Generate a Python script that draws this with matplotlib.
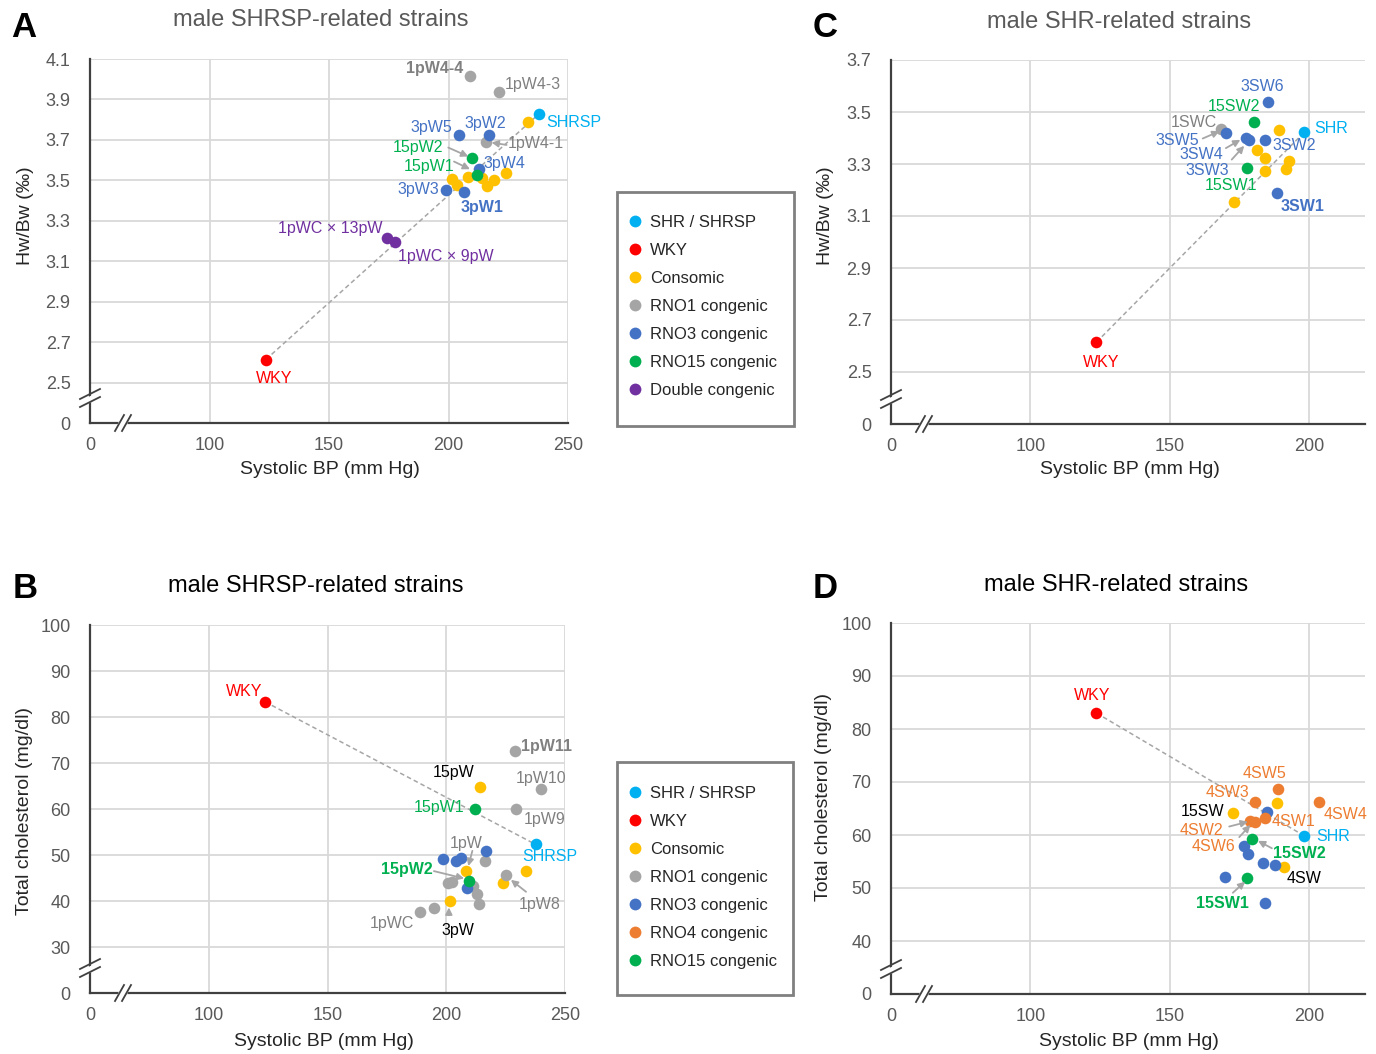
import numpy as np
import matplotlib.pyplot as plt
import matplotlib.transforms as mtransforms
from matplotlib.lines import Line2D
from matplotlib.patches import Rectangle, Polygon

plt.rcParams['font.family'] = ['Liberation Sans', 'DejaVu Sans']

# grupos de cepas
groups = ['SHR', 'WKY', 'Consomic', 'RNO1', 'RNO3', 'RNO4', 'RNO15', 'Double']
group_names = ['SHR / SHRSP', 'WKY', 'Consomic', 'RNO1 congenic', 'RNO3 congenic',
               'RNO4 congenic', 'RNO15 congenic', 'Double congenic']
group_colors = ['#00b0f0', '#ff0000', '#ffc000', '#a5a5a5', '#4472c4', '#ed7d31', '#00b050', '#7030a0']

# A - SHRSP, Hw/Bw
a_bp = [123.6, 237.7,
        233.4, 201.5, 203.6, 208.3, 214.1, 216.2, 218.9, 223.9,
        209.0, 221.0, 215.5,
        204.5, 216.8, 212.9, 199.0, 206.3,
        209.7, 212.0,
        174.4, 177.7]
a_hw = [2.614, 3.827,
        3.787, 3.506, 3.478, 3.516, 3.511, 3.474, 3.502, 3.534,
        4.016, 3.937, 3.692,
        3.726, 3.723, 3.555, 3.453, 3.442,
        3.608, 3.527,
        3.215, 3.193]
a_grp = ['WKY', 'SHR'] + ['Consomic'] * 8 + ['RNO1'] * 3 + ['RNO3'] * 5 + ['RNO15'] * 2 + ['Double'] * 2

# C - SHR, Hw/Bw
c_bp = [123.7, 198.3,
        189.0, 181.3, 184.1, 192.6, 191.5, 184.1, 172.9,
        168.3,
        185.1, 170.3, 177.2, 178.5, 184.1, 188.6,
        180.1, 177.7]
c_hw = [2.615, 3.423,
        3.432, 3.354, 3.322, 3.313, 3.282, 3.272, 3.153,
        3.435,
        3.539, 3.420, 3.401, 3.391, 3.392, 3.190,
        3.462, 3.285]
c_grp = ['WKY', 'SHR'] + ['Consomic'] * 7 + ['RNO1'] + ['RNO3'] * 6 + ['RNO15'] * 2

# B - SHRSP, colesterol
b_bp = [123.7, 237.6,
        214.0, 208.5, 233.5, 224.0, 201.7,
        229.1, 239.8, 229.4, 216.2, 225.1, 200.6, 202.5, 211.3, 213.1, 213.6, 195.0, 188.8,
        216.7, 198.7, 204.2, 206.4, 208.6,
        212.2, 209.7]
b_chol = [83.3, 52.3,
          64.8, 46.5, 46.5, 43.9, 40.0,
          72.7, 64.4, 60.0, 48.6, 45.6, 43.9, 44.2, 43.3, 41.5, 39.3, 38.5, 37.6,
          50.8, 49.2, 48.7, 49.4, 42.9,
          59.9, 44.4]
b_grp = ['WKY', 'SHR'] + ['Consomic'] * 5 + ['RNO1'] * 12 + ['RNO3'] * 5 + ['RNO15'] * 2

# D - SHR, colesterol
d_bp = [123.7, 198.0,
        188.3, 172.6, 190.9,
        184.8, 176.7, 177.9, 183.5, 187.9, 169.8, 184.0,
        188.8, 180.5, 203.6, 184.3, 178.9, 180.7,
        179.5, 177.6]
d_chol = [83.0, 59.9,
          66.0, 64.1, 54.0,
          64.3, 57.9, 56.4, 54.7, 54.4, 52.0, 47.2,
          68.6, 66.2, 66.2, 63.3, 62.7, 62.5,
          59.2, 51.9]
d_grp = ['WKY', 'SHR'] + ['Consomic'] * 3 + ['RNO3'] * 7 + ['RNO4'] * 6 + ['RNO15'] * 2

G, BL, GR, CY, PU, RD, OR, K = '#808080', '#4472c4', '#00b050', '#00b0f0', '#7030a0', '#ff0000', '#ed7d31', '#000000'

# etiquetas: texto, x, y, color, alineacion, negrita
a_labels = [('1pW4-4', 194.4, 4.054, G, 'center', True), ('1pW4-3', 223.6, 3.975, G, 'left', False),
            ('SHRSP', 240.8, 3.785, CY, 'left', False), ('3pW5', 193.0, 3.763, BL, 'center', False),
            ('3pW2', 215.3, 3.782, BL, 'center', False), ('1pW4-1', 224.6, 3.680, G, 'left', False),
            ('15pW2', 187.4, 3.662, GR, 'center', False), ('15pW1', 191.8, 3.568, GR, 'center', False),
            ('3pW4', 223.2, 3.585, BL, 'center', False), ('3pW3', 187.4, 3.457, BL, 'center', False),
            ('3pW1', 214.1, 3.366, BL, 'center', True), ('1pWC \u00d7 13pW', 150.4, 3.264, PU, 'center', False),
            ('1pWC \u00d7 9pW', 199.0, 3.124, PU, 'center', False), ('WKY', 127.0, 2.520, RD, 'center', False)]
a_arrows = [((224.3, 3.675), (218.0, 3.687)), ((199.9, 3.662), (208.3, 3.618)), ((202.3, 3.593), (209.0, 3.555))]

c_labels = [('3SW6', 183.1, 3.600, BL, 'center', False), ('15SW2', 173.1, 3.521, GR, 'center', False),
            ('1SWC', 158.8, 3.460, G, 'center', False), ('SHR', 201.9, 3.438, CY, 'left', False),
            ('3SW5', 152.8, 3.390, BL, 'center', False), ('3SW2', 194.5, 3.370, BL, 'center', False),
            ('3SW4', 161.2, 3.338, BL, 'center', False), ('3SW3', 163.3, 3.274, BL, 'center', False),
            ('15SW1', 172.0, 3.217, GR, 'center', False), ('3SW1', 197.7, 3.137, BL, 'center', True),
            ('WKY', 125.5, 2.538, RD, 'center', False)]
c_arrows = [((161.8, 3.398), (167.8, 3.426)), ((170.1, 3.361), (175.3, 3.393)), ((172.2, 3.317), (176.7, 3.370))]

b_labels = [('WKY', 114.8, 85.5, RD, 'center', False), ('1pW11', 231.5, 73.6, G, 'left', True),
            ('15pW', 203.0, 67.9, K, 'center', False), ('1pW10', 240.0, 66.7, G, 'center', False),
            ('15pW1', 196.9, 60.3, GR, 'center', False), ('1pW9', 241.4, 57.7, G, 'center', False),
            ('SHRSP', 243.5, 49.7, CY, 'center', False), ('1pW', 208.6, 52.5, G, 'center', False),
            ('15pW2', 183.5, 46.9, GR, 'center', True), ('1pW8', 239.3, 39.3, G, 'center', False),
            ('1pWC', 177.1, 35.2, G, 'center', False), ('3pW', 205.1, 33.5, K, 'center', False)]
b_arrows = [((211.0, 50.9), (209.3, 47.6)), ((194.8, 46.5), (207.5, 44.9)),
            ((233.6, 42.0), (227.2, 44.6)), ((201.1, 36.9), (201.1, 38.6))]

d_labels = [('WKY', 122.3, 86.4, RD, 'center', False), ('4SW5', 184.0, 71.6, OR, 'center', False),
            ('4SW3', 170.8, 68.0, OR, 'center', False), ('4SW4', 213.0, 63.9, OR, 'center', False),
            ('15SW', 161.8, 64.5, K, 'center', False), ('4SW1', 194.5, 62.5, OR, 'center', False),
            ('4SW2', 161.4, 60.9, OR, 'center', False), ('SHR', 202.5, 59.8, CY, 'left', False),
            ('4SW6', 165.7, 57.8, OR, 'center', False), ('15SW2', 196.5, 56.5, GR, 'center', True),
            ('4SW', 198.3, 51.8, K, 'center', False), ('15SW1', 169.0, 47.0, GR, 'center', True)]
d_arrows = [((171.3, 61.6), (178.0, 62.5)), ((174.9, 59.6), (178.9, 61.9)),
            ((186.6, 57.5), (181.6, 58.9)), ((172.6, 49.1), (177.0, 51.2))]


def panel(ax, bp, val, grp, labels, arrows, xticks, xmax, ybot, yticks, yfmt):
    ax.set_xlim(50, xmax)
    ax.set_ylim(ybot, yticks[-1])
    ax.set_xticks([50] + xticks)
    ax.set_xticklabels(['0'] + [str(t) for t in xticks])
    ax.set_yticks([ybot] + yticks)
    ax.set_yticklabels(['0'] + [yfmt % t for t in yticks])
    ax.tick_params(length=0, labelsize=13, labelcolor='#595959')
    ax.tick_params(axis='y', pad=14)
    ax.tick_params(axis='x', pad=10)
    ax.grid(True, color='#d9d9d9', lw=1.3)
    ax.set_axisbelow(True)
    for s in ['top', 'right']:
        ax.spines[s].set_visible(False)
    for s in ['left', 'bottom']:
        ax.spines[s].set_color('#404040')
        ax.spines[s].set_linewidth(1.6)

    # linea WKY - SHR
    iw, ish = grp.index('WKY'), grp.index('SHR')
    ax.plot([bp[iw], bp[ish]], [val[iw], val[ish]], ls=(0, (3, 2)), color='#a6a6a6', lw=1.1, zorder=2)

    bp = np.array(bp)
    val = np.array(val)
    grp = np.array(grp)
    for g, c in zip(groups, group_colors):
        m = grp == g
        if m.any():
            ax.scatter(bp[m], val[m], s=70, color=c, linewidths=0, zorder=3)

    for (x0, y0), (x1, y1) in arrows:
        ax.annotate('', xy=(x1, y1), xytext=(x0, y0),
                    arrowprops=dict(arrowstyle='-|>', color='#a6a6a6', lw=1.3, mutation_scale=10,
                                    shrinkA=0, shrinkB=0), zorder=4)
    for t, x, y, c, ha, bold in labels:
        ax.text(x, y, t, color=c, fontsize=11.5, ha=ha, va='center',
                fontweight='bold' if bold else 'normal', clip_on=False, zorder=5)

    # marcas de corte de eje (en pulgadas desde la esquina de los ejes)
    tr = fig.dpi_scale_trans + mtransforms.ScaledTranslation(0, 0, ax.transAxes)
    cy = 0.25
    ax.add_patch(Polygon([(-0.1, cy - 0.09), (0.1, cy + 0.01), (0.1, cy + 0.06), (-0.1, cy - 0.04)],
                         closed=True, transform=tr, color='white', clip_on=False, zorder=6))
    for dy in (-0.04, 0.04):
        ax.add_line(Line2D([-0.1, 0.1], [cy + dy - 0.05, cy + dy + 0.05], transform=tr, color='#404040',
                           lw=1.3, clip_on=False, zorder=7))
    cx = 0.33
    ax.add_patch(Polygon([(cx - 0.08, -0.08), (cx + 0.0, -0.08), (cx + 0.08, 0.08), (cx + 0.0, 0.08)],
                         closed=True, transform=tr, color='white', clip_on=False, zorder=6))
    for dx in (-0.035, 0.035):
        ax.add_line(Line2D([cx + dx - 0.045, cx + dx + 0.045], [-0.08, 0.08], transform=tr,
                           color='#404040', lw=1.3, clip_on=False, zorder=7))


fig = plt.figure(figsize=(13.76, 10.54), dpi=100)
W, H = 1376, 1054


def box(l, t, r, b):
    return [l / W, 1 - b / H, (r - l) / W, (b - t) / H]


axA = fig.add_axes(box(90, 59, 568, 423))
axC = fig.add_axes(box(891, 60, 1365, 424))
axB = fig.add_axes(box(90, 625, 565, 993))
axD = fig.add_axes(box(891, 623, 1365, 994))

panel(axA, a_bp, a_hw, a_grp, a_labels, a_arrows, [100, 150, 200, 250], 250, 2.3,
      [2.5, 2.7, 2.9, 3.1, 3.3, 3.5, 3.7, 3.9, 4.1], '%.1f')
panel(axC, c_bp, c_hw, c_grp, c_labels, c_arrows, [100, 150, 200], 220, 2.3,
      [2.5, 2.7, 2.9, 3.1, 3.3, 3.5, 3.7], '%.1f')
panel(axB, b_bp, b_chol, b_grp, b_labels, b_arrows, [100, 150, 200, 250], 250, 20,
      [30, 40, 50, 60, 70, 80, 90, 100], '%d')
panel(axD, d_bp, d_chol, d_grp, d_labels, d_arrows, [100, 150, 200], 220, 30,
      [40, 50, 60, 70, 80, 90, 100], '%d')

# titulos y etiquetas de ejes
fig.text(321 / W, 1 - 20 / H, 'male SHRSP-related strains', fontsize=17, color='#595959', ha='center', va='center')
fig.text(1119 / W, 1 - 22 / H, 'male SHR-related strains', fontsize=17, color='#595959', ha='center', va='center')
fig.text(316 / W, 1 - 586 / H, 'male SHRSP-related strains', fontsize=17, color='#000000', ha='center', va='center')
fig.text(1116 / W, 1 - 585 / H, 'male SHR-related strains', fontsize=17, color='#000000', ha='center', va='center')

for x, y in [(330, 469), (1130, 469), (324, 1041), (1129, 1041)]:
    fig.text(x / W, 1 - y / H, 'Systolic BP (mm Hg)', fontsize=14, color='#262626', ha='center', va='center')
fig.text(25 / W, 1 - 216 / H, 'Hw/Bw (\u2030)', fontsize=14, color='#262626', ha='center', va='center', rotation=90)
fig.text(826 / W, 1 - 216 / H, 'Hw/Bw (\u2030)', fontsize=14, color='#262626', ha='center', va='center', rotation=90)
fig.text(25 / W, 1 - 811 / H, 'Total cholesterol (mg/dl)', fontsize=14, color='#262626', ha='center', va='center', rotation=90)
fig.text(824 / W, 1 - 797 / H, 'Total cholesterol (mg/dl)', fontsize=14, color='#262626', ha='center', va='center', rotation=90)

for t, x, y in [('A', 11, 37), ('C', 813, 37), ('B', 13, 598), ('D', 813, 598)]:
    fig.text(x / W, 1 - y / H, t, fontsize=25, fontweight='bold', color='#000000', ha='left', va='baseline')


# leyendas
def legend(names, top, rect):
    handles = [Line2D([], [], marker='o', ls='none', ms=8.5, mec='none', color=group_colors[groups.index(g)])
               for g in names]
    labs = [group_names[groups.index(g)] for g in names]
    fig.legend(handles, labs, loc='upper left', bbox_to_anchor=(630 / W, 1 - top / H), frameon=False,
               fontsize=12, handlelength=0.6, handletextpad=0.6, labelspacing=0.78, borderpad=0,
               borderaxespad=0, labelcolor='#262626')
    l, t, r, b = rect
    fig.add_artist(Rectangle((l / W, 1 - b / H), (r - l) / W, (b - t) / H, transform=fig.transFigure,
                             fill=False, edgecolor='#808080', lw=2))


legend(['SHR', 'WKY', 'Consomic', 'RNO1', 'RNO3', 'RNO15', 'Double'], 215, (617, 192, 794, 426))
legend(['SHR', 'WKY', 'Consomic', 'RNO1', 'RNO3', 'RNO4', 'RNO15'], 786, (617, 762, 793, 995))

plt.savefig('out.png', dpi=100)
